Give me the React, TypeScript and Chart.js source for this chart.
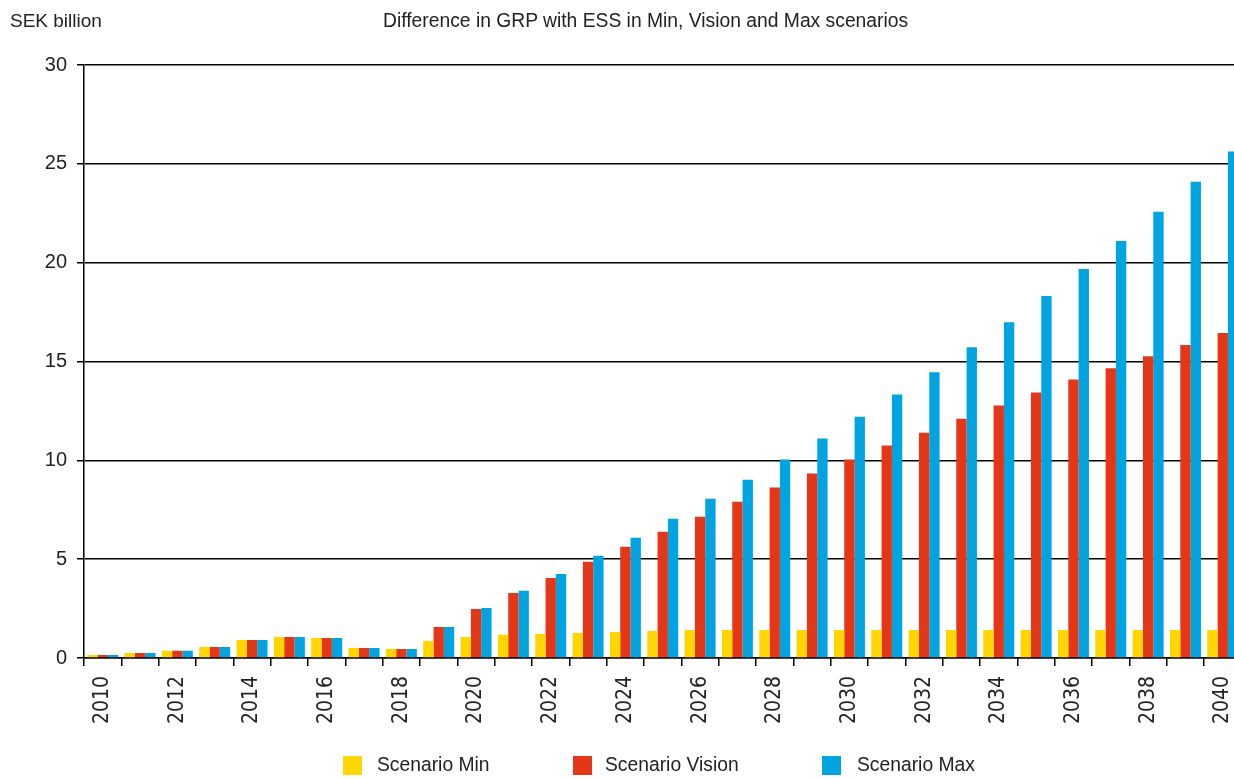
import React, { useEffect, useRef } from "react";
import { Chart, registerables } from "chart.js";

Chart.register(...registerables);

const years = [
  "2010", "2011", "2012", "2013", "2014", "2015", "2016", "2017", "2018", "2019",
  "2020", "2021", "2022", "2023", "2024", "2025", "2026", "2027", "2028", "2029",
  "2030", "2031", "2032", "2033", "2034", "2035", "2036", "2037", "2038", "2039", "2040",
];

const scenarioMin = [
  0.15, 0.25, 0.37, 0.56, 0.91, 1.06, 1.01, 0.51, 0.46, 0.86,
  1.06, 1.17, 1.22, 1.27, 1.32, 1.37, 1.42, 1.42, 1.42, 1.42,
  1.42, 1.42, 1.42, 1.42, 1.42, 1.42, 1.42, 1.42, 1.42, 1.42, 1.42,
];

const scenarioVision = [
  0.15, 0.25, 0.37, 0.56, 0.91, 1.06, 1.01, 0.51, 0.46, 1.57,
  2.48, 3.29, 4.05, 4.87, 5.63, 6.39, 7.15, 7.91, 8.62, 9.33,
  10.04, 10.75, 11.4, 12.1, 12.77, 13.43, 14.09, 14.66, 15.27, 15.83, 16.44,
];

const scenarioMax = [
  0.15, 0.25, 0.37, 0.56, 0.91, 1.06, 1.01, 0.51, 0.46, 1.57,
  2.53, 3.4, 4.25, 5.17, 6.08, 7.04, 8.06, 9.02, 10.04, 11.1,
  12.2, 13.33, 14.46, 15.72, 16.99, 18.31, 19.68, 21.1, 22.57, 24.09, 25.62,
];

const seriesNames = ["Scenario Min", "Scenario Vision", "Scenario Max"];
const seriesColors = ["#FFD600", "#E33718", "#00A4E0"];

const titleText = "Difference in GRP with ESS in Min, Vision and Max scenarios";
const unitText = "SEK billion";

const FONT = "'Liberation Sans', Arial, sans-serif";
const NARROW = "'Liberation Sans Narrow', 'DejaVu Sans Condensed', 'Liberation Sans', sans-serif";

export default function App() {
  const canvasRef = useRef<HTMLCanvasElement | null>(null);

  useEffect(() => {
    if (!canvasRef.current) return;
    const values = [scenarioMin, scenarioVision, scenarioMax];
    const chart = new Chart(canvasRef.current, {
      type: "bar",
      data: {
        labels: years,
        datasets: values.map((v, i) => ({
          label: seriesNames[i],
          data: v,
          backgroundColor: seriesColors[i],
          borderWidth: 0,
          categoryPercentage: 0.83,
          barPercentage: 1.0,
        })),
      },
      options: {
        responsive: false,
        animation: false,
        devicePixelRatio: 1,
        layout: { padding: { top: 65, left: 0, right: 0, bottom: 0 } },
        plugins: {
          legend: { display: false },
          tooltip: { enabled: false },
          title: { display: false },
        },
        scales: {
          x: {
            offset: true,
            afterFit: (scale: any) => {
              scale.height = 120;
            },
            grid: {
              offset: true,
              drawOnChartArea: false,
              drawTicks: true,
              tickLength: 8,
              color: "#000",
              lineWidth: 1.5,
            },
            border: { display: true, color: "#000", width: 1.5 },
            ticks: {
              autoSkip: false,
              maxRotation: 90,
              minRotation: 90,
              padding: 10,
              color: "#222",
              font: { family: NARROW, size: 21 },
              callback: (_v: any, i: number) => (i % 2 === 0 ? years[i] : ""),
            },
          },
          y: {
            min: 0,
            max: 30,
            afterFit: (scale: any) => {
              scale.width = 84;
            },
            grid: {
              color: "#000",
              lineWidth: 1.5,
              drawTicks: true,
              tickLength: 7,
            },
            border: { display: true, color: "#000", width: 1.5 },
            ticks: {
              stepSize: 5,
              padding: 10,
              color: "#222",
              font: { family: FONT, size: 20 },
            },
          },
        },
      },
    });
    return () => chart.destroy();
  }, []);

  const legendPos = [
    { box: 343, text: 377 },
    { box: 573, text: 605 },
    { box: 822, text: 857 },
  ];

  return (
    <div
      style={{
        position: "absolute",
        left: 0,
        top: 0,
        width: 1234,
        height: 778,
        overflow: "hidden",
        background: "#fff",
        fontFamily: FONT,
        color: "#222",
      }}
    >
      <canvas
        ref={canvasRef}
        width={1258}
        height={778}
        style={{ position: "absolute", left: 0, top: 0, width: 1258, height: 778 }}
      />
      <div style={{ position: "absolute", left: 10, top: 10, fontSize: 19, lineHeight: "22px", whiteSpace: "nowrap" }}>
        {unitText}
      </div>
      <div style={{ position: "absolute", left: 383, top: 10, fontSize: 19.3, lineHeight: "22px", whiteSpace: "nowrap" }}>
        {titleText}
      </div>
      {seriesNames.map((name, i) => (
        <React.Fragment key={name}>
          <div
            style={{
              position: "absolute",
              left: legendPos[i].box,
              top: 756,
              width: 19,
              height: 19,
              background: seriesColors[i],
            }}
          />
          <div
            style={{
              position: "absolute",
              left: legendPos[i].text,
              top: 754,
              fontSize: 19.3,
              lineHeight: "22px",
              whiteSpace: "nowrap",
            }}
          >
            {name}
          </div>
        </React.Fragment>
      ))}
    </div>
  );
}
